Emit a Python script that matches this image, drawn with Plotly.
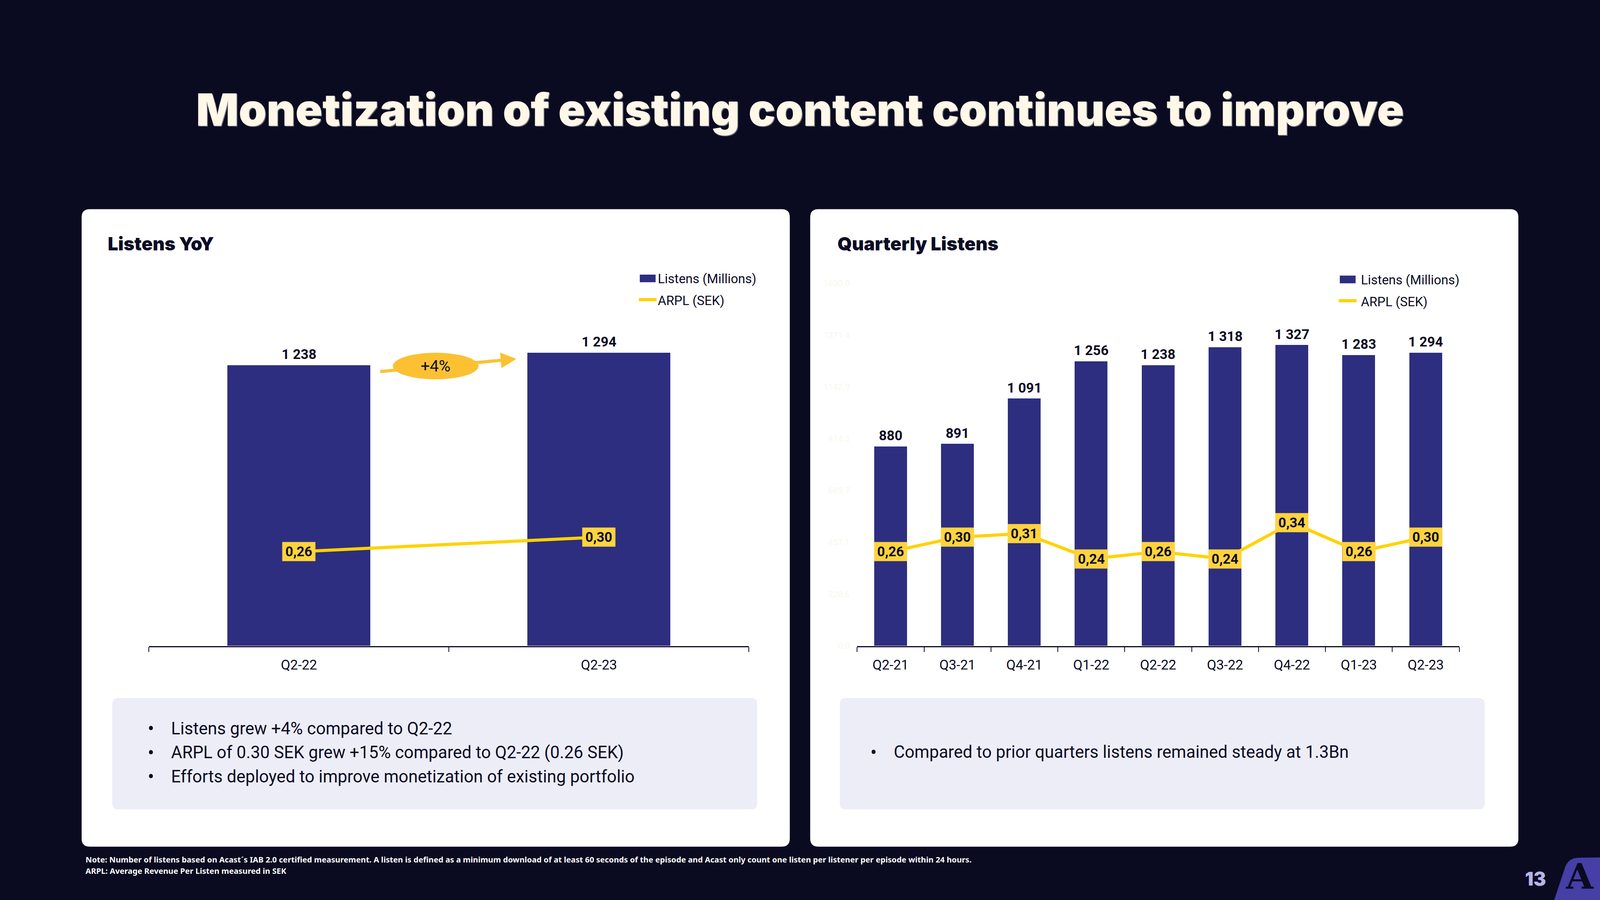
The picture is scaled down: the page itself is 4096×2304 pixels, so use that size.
import plotly.graph_objects as go

# ---------------- data ----------------
yoy_quarters = ["Q2-22", "Q2-23"]
yoy_listens = [1238, 1294]
yoy_arpl = [0.26, 0.30]

q_quarters = ["Q2-21", "Q3-21", "Q4-21", "Q1-22", "Q2-22", "Q3-22", "Q4-22", "Q1-23", "Q2-23"]
q_listens = [880, 891, 1091, 1256, 1238, 1318, 1327, 1283, 1294]
q_arpl = [0.26, 0.30, 0.31, 0.24, 0.26, 0.24, 0.34, 0.26, 0.30]

q_tick_vals = [0, 228.6, 457.1, 685.7, 914.3, 1142.9, 1371.4, 1600.0]
q_tick_text = ["0.0", "228.6", "457.1", "685.7", "914.3", "1142.9", "1371.4", "1600.0"]

yoy_bullets = [
    "Listens grew +4% compared to Q2-22",
    "ARPL of 0.30 SEK grew +15% compared to Q2-22 (0.26 SEK)",
    "Efforts deployed to improve monetization of existing portfolio",
]
q_bullets = ["Compared to prior quarters listens remained steady at 1.3Bn"]

# ---------------- styling ----------------
W, H = 4096, 2304
GW, GH = 1568.0, 882.0          # design grid
S = W / GW
VS = 0.988                      # vertical compensation observed in rendering

BG = "#0A0B21"
DARK = "#0B0C24"
CREAM = "#FFF7E8"
BAR = "#2D2E7F"
LINE = "#FFD200"
LABEL_BG = "#FFD33D"
BADGE = "#FBC132"
BOX = "#EDEDF7"
HEAVY = "Inter, DejaVu Sans, sans-serif"
BODY = "Roboto, Noto Sans, sans-serif"


def px(x):
    return x / GW


def py(y):
    yy = GH / 2 + (y - GH / 2) / VS
    return 1 - yy / GH


def rrect(x0, y0, x1, y1, r):
    X0, X1, YT, YB = px(x0), px(x1), py(y0), py(y1)
    rx, ry = r / GW, r / GH
    return (f"M {X0+rx},{YT} L {X1-rx},{YT} Q {X1},{YT} {X1},{YT-ry} "
            f"L {X1},{YB+ry} Q {X1},{YB} {X1-rx},{YB} L {X0+rx},{YB} "
            f"Q {X0},{YB} {X0},{YB+ry} L {X0},{YT-ry} Q {X0},{YT} {X0+rx},{YT} Z")


def fmt_int(v):
    return f"{v:,}".replace(",", " ")


def fmt_dec(v):
    return f"{v:.2f}".replace(".", ",")


fig = go.Figure()

# ---------------- traces ----------------
fig.add_trace(go.Bar(x=yoy_quarters, y=yoy_listens, width=0.476, marker=dict(color=BAR, line=dict(width=0)),
                     xaxis="x", yaxis="y", name="Listens (Millions)", showlegend=False, hoverinfo="skip"))
fig.add_trace(go.Scatter(x=yoy_quarters, y=yoy_arpl, mode="lines", line=dict(color=LINE, width=8),
                         xaxis="x", yaxis="y2", name="ARPL (SEK)", showlegend=False, hoverinfo="skip"))
fig.add_trace(go.Bar(x=q_quarters, y=q_listens, width=0.49, marker=dict(color=BAR, line=dict(width=0)),
                     xaxis="x2", yaxis="y3", name="Listens (Millions)", showlegend=False, hoverinfo="skip"))
fig.add_trace(go.Scatter(x=q_quarters, y=q_arpl, mode="lines", line=dict(color=LINE, width=8),
                         xaxis="x2", yaxis="y4", name="ARPL (SEK)", showlegend=False, hoverinfo="skip"))

ydom = [py(633), py(278)]
xcommon = dict(type="category", showline=True, linecolor=DARK, linewidth=3, ticks="outside",
               tickson="boundaries", ticklen=12, tickwidth=2, tickcolor=DARK, showgrid=False,
               zeroline=False, tickfont=dict(family=BODY, size=35, color=DARK), ticklabelstandoff=15,
               fixedrange=True)

fig.update_layout(
    width=W, height=H, autosize=False,
    margin=dict(l=0, r=0, t=0, b=0, pad=0),
    paper_bgcolor=BG, plot_bgcolor="rgba(0,0,0,0)",
    showlegend=False, bargap=0,
    xaxis=dict(domain=[px(146), px(734)], anchor="y", range=[-0.5, 1.5], **xcommon),
    yaxis=dict(domain=ydom, anchor="x", range=[0, 1600], visible=False, fixedrange=True),
    yaxis2=dict(overlaying="y", anchor="x", range=[0, 1.0], visible=False, fixedrange=True),
    xaxis2=dict(domain=[px(840), px(1430)], anchor="y3", range=[-0.5, 8.5], **xcommon),
    yaxis3=dict(domain=ydom, anchor="x2", range=[0, 1600], showgrid=False, zeroline=False,
                showline=False, ticks="", tickvals=q_tick_vals, ticktext=q_tick_text,
                tickfont=dict(family=BODY, size=22, color="#F9F6EC"), ticklabelstandoff=18,
                fixedrange=True),
    yaxis4=dict(overlaying="y3", anchor="x2", range=[0, 1.0], visible=False, fixedrange=True),
)

shapes = []
annotations = []

# panels
shapes.append(dict(type="path", path=rrect(80, 205.5, 774, 829.5, 8), xref="paper", yref="paper",
                   fillcolor="white", line=dict(width=0), layer="below"))
shapes.append(dict(type="path", path=rrect(794, 205.5, 1488, 829.5, 8), xref="paper", yref="paper",
                   fillcolor="white", line=dict(width=0), layer="below"))
# text boxes
shapes.append(dict(type="path", path=rrect(110, 684, 742, 793, 6), xref="paper", yref="paper",
                   fillcolor=BOX, line=dict(width=0), layer="below"))
shapes.append(dict(type="path", path=rrect(823, 684, 1455, 793, 6), xref="paper", yref="paper",
                   fillcolor=BOX, line=dict(width=0), layer="below"))

# main title
annotations.append(dict(x=0.5, y=py(108), xref="paper", yref="paper", showarrow=False,
                        text="Monetization of existing content continues to improve",
                        font=dict(family=HEAVY, size=114, color=CREAM, weight=900,
                                  shadow="2px 2px 0px #6E6E78"),
                        xanchor="center", yanchor="middle"))
# panel titles
for x, t in [(105, "Listens YoY"), (820, "Quarterly Listens")]:
    annotations.append(dict(x=px(x), y=py(239), xref="paper", yref="paper", showarrow=False, text=t,
                            font=dict(family=HEAVY, size=47, color=DARK, weight=900),
                            xanchor="left", yanchor="middle"))

# legends (manual)
for sx, lx in [(627, 644), (1313, 1333)]:
    dy = 0 if sx == 627 else 1
    shapes.append(dict(type="rect", xref="paper", yref="paper", x0=px(sx), x1=px(sx + 15.5),
                       y0=py(277 + dy), y1=py(269.5 + dy), fillcolor=BAR, line=dict(width=0)))
    shapes.append(dict(type="line", xref="paper", yref="paper", x0=px(sx - 1), x1=px(sx + 16.5),
                       y0=py(294 + dy), y1=py(294 + dy), line=dict(color=LINE, width=8)))
    annotations.append(dict(x=px(lx), y=py(273.5 + dy), xref="paper", yref="paper", showarrow=False,
                            text="Listens (Millions)", font=dict(family=BODY, size=33, color=DARK),
                            xanchor="left", yanchor="middle"))
    annotations.append(dict(x=px(lx), y=py(295 + dy), xref="paper", yref="paper", showarrow=False,
                            text="ARPL (SEK)", font=dict(family=BODY, size=33, color=DARK),
                            xanchor="left", yanchor="middle"))

# bar value labels and ARPL labels
for xa, ya, ya2, cats, vals, arpl in [("x", "y", "y2", yoy_quarters, yoy_listens, yoy_arpl),
                                      ("x2", "y3", "y4", q_quarters, q_listens, q_arpl)]:
    for c, v in zip(cats, vals):
        annotations.append(dict(x=c, y=v, xref=xa, yref=ya, showarrow=False, text=fmt_int(v),
                                font=dict(family=BODY, size=35, color=DARK, weight=700),
                                xanchor="center", yanchor="bottom", yshift=5))
    for c, a in zip(cats, arpl):
        annotations.append(dict(x=c, y=a, xref=xa, yref=ya2, showarrow=False, text=fmt_dec(a),
                                font=dict(family=BODY, size=35, color=DARK, weight=700),
                                bgcolor=LABEL_BG, width=84, height=48, borderpad=0,
                                xanchor="center", yanchor="middle", valign="middle"))

# +4% badge with arrow
shapes.append(dict(type="circle", xref="paper", yref="paper", x0=px(385), x1=px(469),
                   y0=py(372), y1=py(346), fillcolor=BADGE, line=dict(width=0)))
annotations.append(dict(x=px(506), y=py(352), xref="paper", yref="paper", text="", showarrow=True,
                        ax=-(506 - 372) * S, ay=(365 - 352.5) * S, axref="pixel", ayref="pixel",
                        arrowhead=2, arrowsize=1, arrowwidth=8, arrowcolor=BADGE, standoff=0))
annotations.append(dict(x=px(427), y=py(359), xref="paper", yref="paper", showarrow=False,
                        text="+4%", font=dict(family=BODY, size=41, color=DARK),
                        xanchor="center", yanchor="middle"))

# bullet texts
for i, t in enumerate(yoy_bullets):
    yy = 714 + i * 23.5
    annotations.append(dict(x=px(148), y=py(yy), xref="paper", yref="paper", showarrow=False, text="•",
                            font=dict(family=BODY, size=50, color=DARK), xanchor="center", yanchor="middle"))
    annotations.append(dict(x=px(167), y=py(yy), xref="paper", yref="paper", showarrow=False, text=t,
                            font=dict(family=BODY, size=43.5, color=DARK), xanchor="left", yanchor="middle"))
for t in q_bullets:
    annotations.append(dict(x=px(856), y=py(737), xref="paper", yref="paper", showarrow=False, text="•",
                            font=dict(family=BODY, size=50, color=DARK), xanchor="center", yanchor="middle"))
    annotations.append(dict(x=px(875), y=py(737), xref="paper", yref="paper", showarrow=False, text=t,
                            font=dict(family=BODY, size=43.5, color=DARK), xanchor="left", yanchor="middle"))

# footnotes
annotations.append(dict(x=px(83), y=py(842), xref="paper", yref="paper", showarrow=False,
                        text="Note: Number of listens based on Acast´s IAB 2.0 certified measurement. A listen is defined as a minimum download of at least 60 seconds of the episode and Acast only count one listen per listener per episode within 24 hours.",
                        font=dict(family="Noto Sans", size=20.2, color="white", weight=700),
                        xanchor="left", yanchor="middle"))
annotations.append(dict(x=px(83), y=py(853), xref="paper", yref="paper", showarrow=False,
                        text="ARPL: Average Revenue Per Listen measured in SEK",
                        font=dict(family="Noto Sans", size=20.2, color="white", weight=700),
                        xanchor="left", yanchor="middle"))

# page number & logo
annotations.append(dict(x=px(1505), y=py(861), xref="paper", yref="paper", showarrow=False, text="13",
                        font=dict(family=HEAVY, size=48, color="#B6B4E8", weight=900),
                        xanchor="center", yanchor="middle"))
logo = (f"M {px(1523)},{py(882)} L {px(1534)},{py(849)} Q {px(1537.5)},{py(840.5)} {px(1547)},{py(840.3)} "
        f"L {px(1568)},{py(840)} L {px(1568)},{py(882)} Z")
shapes.append(dict(type="path", path=logo, xref="paper", yref="paper", fillcolor="#453FA6", line=dict(width=0)))
annotations.append(dict(x=px(1548), y=py(858.5), xref="paper", yref="paper", showarrow=False, text="A",
                        font=dict(family="DejaVu Serif, Liberation Serif, serif", size=90, color=BG, weight=700),
                        xanchor="center", yanchor="middle"))

fig.update_layout(shapes=shapes, annotations=annotations)
fig.write_html(
    "out.html",
    config=dict(displayModeBar=False),
    post_script="document.body.style.margin='0px';document.body.style.padding='0px';"
                "document.body.style.overflow='hidden';document.body.style.background='#0A0B21';",
)
